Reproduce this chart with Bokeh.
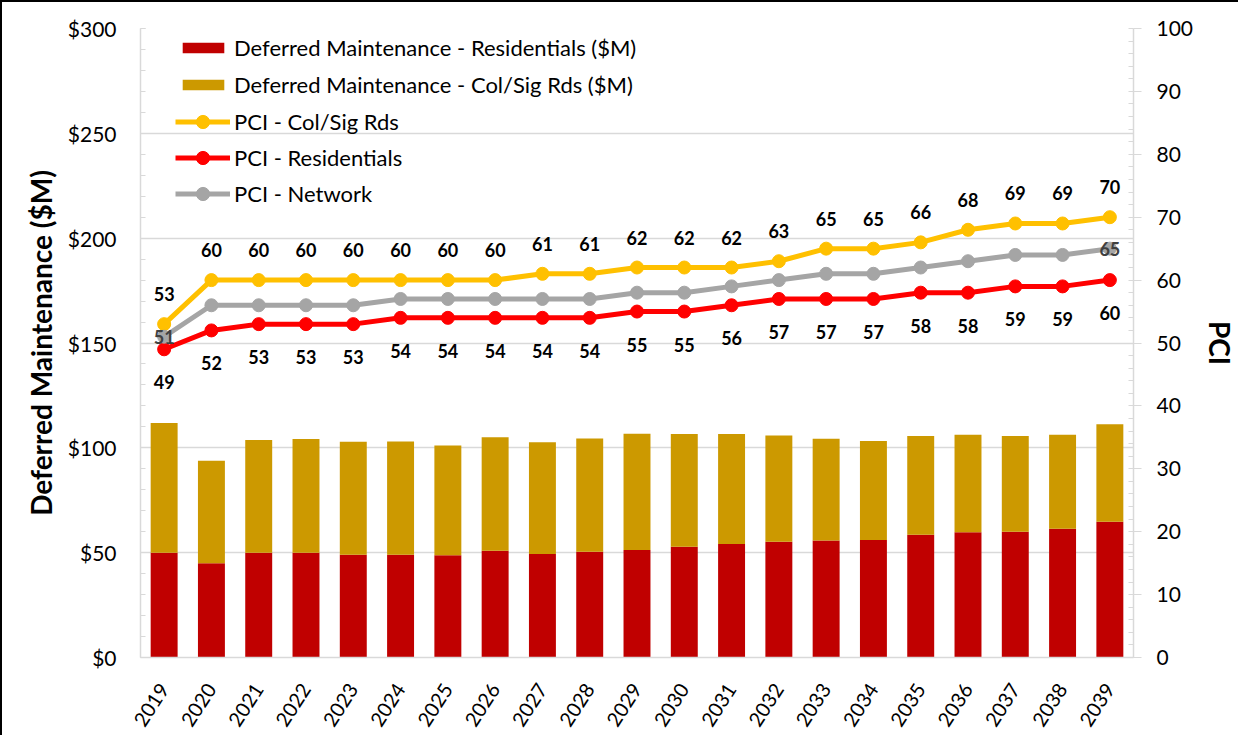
import math
from bokeh.plotting import figure
from bokeh.models import (Range1d, LinearAxis, FixedTicker, NumeralTickFormatter,
                          Legend, LegendItem, ColumnDataSource)
from bokeh.embed import file_html
from bokeh.resources import INLINE
from bokeh.core.properties import value

years = [str(y) for y in range(2019, 2040)]
dm_res = [50.0, 45.0, 50.0, 50.0, 49.0, 49.0, 48.8, 50.9, 49.4, 50.4, 51.3,
          52.8, 54.1, 55.2, 55.8, 56.1, 58.5, 59.7, 60.0, 61.4, 64.7]
dm_col = [61.8, 48.8, 53.7, 54.2, 53.9, 54.0, 52.3, 54.2, 53.3, 54.1, 55.4,
          53.8, 52.5, 50.7, 48.5, 47.2, 47.1, 46.5, 45.6, 44.8, 46.5]
pci_col = [53, 60, 60, 60, 60, 60, 60, 60, 61, 61, 62, 62, 62, 63, 65, 65, 66, 68, 69, 69, 70]
pci_res = [49, 52, 53, 53, 53, 54, 54, 54, 54, 54, 55, 55, 56, 57, 57, 57, 58, 58, 59, 59, 60]
pci_net = [51, 56, 56, 56, 56, 57, 57, 57, 57, 57, 58, 58, 59, 60, 61, 61, 62, 63, 64, 64, 65]

FONT = "Lato"
C_RES_BAR = "#C00000"
C_COL_BAR = "#CC9900"
C_COL = "#FFC000"
C_RES = "#FF0000"
C_NET = "#A5A5A5"
GRID = "#D9D9D9"

src = ColumnDataSource(dict(year=years, res=dm_res, col=dm_col))

p = figure(x_range=years, y_range=Range1d(0, 300), width=1238, height=735,
           output_backend="svg", toolbar_location=None,
           min_border_left=138, min_border_right=101, min_border_top=26,
           min_border_bottom=80)
p.extra_y_ranges = {"pci": Range1d(0, 100)}
p.outline_line_color = None
p.styles = {"border-top": "2px solid #000000", "border-left": "2px solid #000000",
            "box-sizing": "border-box"}

# left axis
ya = p.yaxis[0]
ya.ticker = FixedTicker(ticks=list(range(0, 301, 50)), minor_ticks=list(range(0, 301, 10)))
ya.formatter = NumeralTickFormatter(format="$0")
ya.axis_label = "Deferred Maintenance ($M)"
ya.axis_label_text_font = FONT
ya.axis_label_text_font_style = "bold"
ya.axis_label_text_font_size = "28px"
ya.axis_label_text_color = "#000000"
ya.axis_label_standoff = 7
ya.major_label_text_font = FONT
ya.major_label_text_font_size = "21px"
ya.major_label_text_color = "#000000"
ya.major_label_standoff = 24
ya.axis_line_color = GRID
ya.axis_line_width = 1.5
ya.major_tick_line_color = GRID
ya.minor_tick_line_color = GRID
ya.major_tick_in = 5
ya.major_tick_out = 0
ya.minor_tick_in = 5
ya.minor_tick_out = 0

# right axis
ra = LinearAxis(y_range_name="pci",
                ticker=FixedTicker(ticks=list(range(0, 101, 10)), minor_ticks=list(range(0, 101, 2))),
                axis_label="PCI")
ra.axis_label_text_font = FONT
ra.axis_label_text_font_style = "bold"
ra.axis_label_text_font_size = "28px"
ra.axis_label_text_color = "#000000"
ra.axis_label_standoff = 7
ra.major_label_text_font = FONT
ra.major_label_text_font_size = "21px"
ra.major_label_text_color = "#000000"
ra.major_label_standoff = 15
ra.axis_line_color = GRID
ra.axis_line_width = 1.5
ra.major_tick_line_color = GRID
ra.minor_tick_line_color = GRID
ra.major_tick_in = 0
ra.major_tick_out = 8
ra.minor_tick_in = 5
ra.minor_tick_out = 0
p.add_layout(ra, "right")

# x axis
xa = p.xaxis[0]
xa.axis_line_color = GRID
xa.axis_line_width = 1.5
xa.major_tick_line_color = None
xa.major_label_orientation = 57 * math.pi / 180
xa.major_label_text_font = FONT
xa.major_label_text_font_size = "20px"
xa.major_label_text_color = "#000000"
xa.major_label_standoff = 22

p.xgrid.visible = False
p.ygrid.grid_line_color = GRID
p.ygrid.grid_line_width = 1.5

bars = p.vbar_stack(["res", "col"], x="year", width=0.57, source=src,
                    color=[C_RES_BAR, C_COL_BAR], line_color=None)

lines = []
for vals, col in [(pci_col, C_COL), (pci_res, C_RES), (pci_net, C_NET)]:
    l = p.line(years, vals, line_color=col, line_width=5, y_range_name="pci")
    s = p.scatter(years, vals, size=13, fill_color=col, line_color=col, y_range_name="pci")
    lines.append((l, s))

lab_kw = dict(text_font=value(FONT), text_font_style="bold", text_font_size="18px",
              text_align="center", text_baseline="middle", y_range_name="pci")
p.text(years, pci_col, text=[str(v) for v in pci_col], y_offset=-30, text_color="#000000", **lab_kw)
p.text(years, pci_res, text=[str(v) for v in pci_res], y_offset=33, text_color="#000000", **lab_kw)
net_idx = [0, len(years) - 1]
p.text([years[i] for i in net_idx], [pci_net[i] for i in net_idx],
       text=[str(pci_net[i]) for i in net_idx], text_color="#404040", **lab_kw)

legA = Legend(items=[LegendItem(label="Deferred Maintenance - Residentials ($M)", renderers=[bars[0]]),
                     LegendItem(label="Deferred Maintenance - Col/Sig Rds ($M)", renderers=[bars[1]])],
              location=(37, 559), glyph_width=52, glyph_height=13, label_standoff=5,
              spacing=10, padding=0, margin=0, border_line_color=None,
              background_fill_alpha=0, label_text_font=FONT, label_text_font_size="22px",
              label_text_color="#000000")
legB = Legend(items=[LegendItem(label="PCI - Col/Sig Rds", renderers=list(lines[0])),
                     LegendItem(label="PCI - Residentials", renderers=list(lines[1])),
                     LegendItem(label="PCI - Network", renderers=list(lines[2]))],
              location=(35, 447), glyph_width=55, glyph_height=33, label_standoff=4,
              spacing=3, padding=0, margin=0, border_line_color=None,
              background_fill_alpha=0, label_text_font=FONT, label_text_font_size="22px",
              label_text_color="#000000")
p.add_layout(legA, "center")
p.add_layout(legB, "center")

open("out.html", "w").write(file_html(p, INLINE))
